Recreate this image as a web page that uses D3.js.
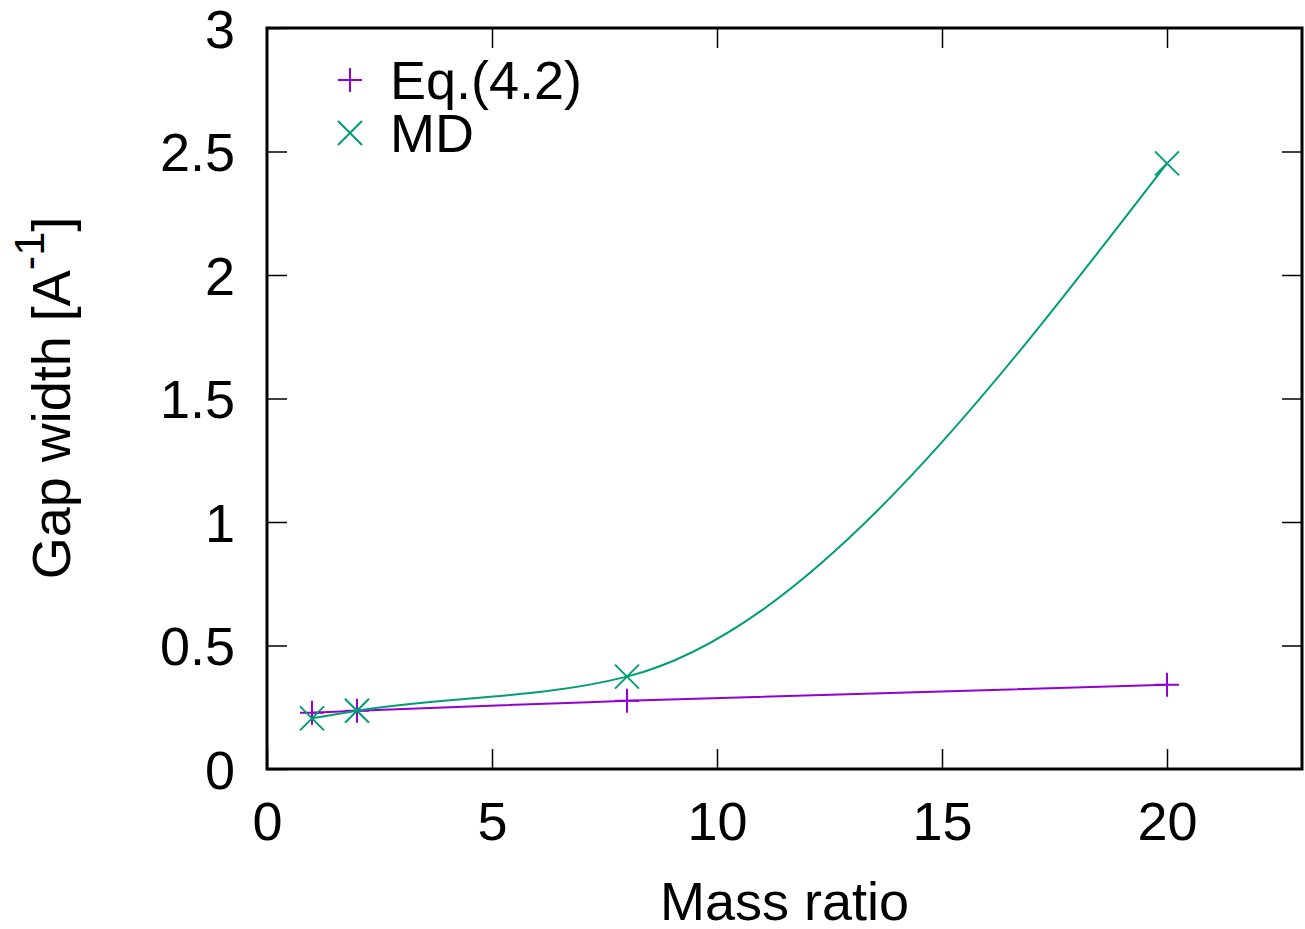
<!DOCTYPE html>
<html>
<head>
<meta charset="utf-8">
<script src="https://cdn.jsdelivr.net/npm/d3@7"></script>
<style>
  body { margin: 0; background: #fff; }
  text { font-family: "Liberation Sans", Arial, sans-serif; fill: #000; }
</style>
</head>
<body>
<div id="chart"></div>
<script>
// mass ratios and gap widths
var massRatio = [1, 2, 8, 20];
var eqValues = [0.228, 0.236, 0.276, 0.341];
var mdValues = [0.205, 0.236, 0.374, 2.452];
var xTicks = [0, 5, 10, 15, 20];
var yTicks = [0, 0.5, 1, 1.5, 2, 2.5, 3];

var w = 1305, h = 929;
//plot box (window.top is taken, so no plain "top")
var plotLeft = 267, plotRight = 1302, plotTop = 28, plotBottom = 769;
var FONT = 54;

var svg = d3.select("#chart").append("svg")
    .attr("width", w)
    .attr("height", h);

var x = d3.scaleLinear().domain([0, 23]).range([plotLeft, plotRight]);
var y = d3.scaleLinear().domain([0, 3]).range([plotBottom, plotTop]);

//tick marks on all four sides, pointing inwards
var TICK = 20;
svg.append("g")
    .attr("transform", "translate(0," + plotBottom + ")")
    .call(d3.axisBottom(x).tickValues(xTicks).tickSizeInner(-TICK).tickSizeOuter(0).tickFormat(d3.format("d")).tickPadding(34))
    .call(function (g) {
        g.select(".domain").remove();
        g.selectAll("line").attr("stroke", "#000").attr("stroke-width", 1.5);
        g.selectAll("text").attr("font-size", FONT).attr("dy", "0.69em");
    });
svg.append("g")
    .attr("transform", "translate(0," + plotTop + ")")
    .call(d3.axisTop(x).tickValues(xTicks.filter(function (d) { return d > 0; })).tickSizeInner(-TICK).tickSizeOuter(0).tickFormat(""))
    .call(function (g) {
        g.select(".domain").remove();
        g.selectAll("line").attr("stroke", "#000").attr("stroke-width", 1.5);
    });
svg.append("g")
    .attr("transform", "translate(" + plotLeft + ",0)")
    .call(d3.axisLeft(y).tickValues(yTicks).tickSizeInner(-TICK).tickSizeOuter(0).tickFormat(d3.format("")).tickPadding(32))
    .call(function (g) {
        g.select(".domain").remove();
        g.selectAll("line").attr("stroke", "#000").attr("stroke-width", 1.5);
        g.selectAll("text").attr("font-size", FONT).attr("dy", "0.36em");
    });
svg.append("g")
    .attr("transform", "translate(" + plotRight + ",0)")
    .call(d3.axisRight(y).tickValues(yTicks.filter(function (d) { return d > 0 && d < 3; })).tickSizeInner(-TICK).tickSizeOuter(0).tickFormat(""))
    .call(function (g) {
        g.select(".domain").remove();
        g.selectAll("line").attr("stroke", "#000").attr("stroke-width", 1.5);
    });

//frame
svg.append("rect")
    .attr("x", plotLeft)
    .attr("y", plotTop)
    .attr("width", plotRight - plotLeft)
    .attr("height", plotBottom - plotTop)
    .attr("fill", "none")
    .attr("stroke", "#000")
    .attr("stroke-width", 3);

var series = [
    { name: "Eq.(4.2)", values: eqValues, color: "#9400d3", marker: "plus" },
    { name: "MD", values: mdValues, color: "#009e73", marker: "cross" }
];

var line = d3.line()
    .x(function (d) { return x(d[0]); })
    .y(function (d) { return y(d[1]); })
    .curve(d3.curveMonotoneX);

var M = 12;
function markerPath(type) {
    if (type === "plus") {
        return "M" + (-M) + ",0H" + M + "M0," + (-M) + "V" + M;
    }
    return "M" + (-M) + "," + (-M) + "L" + M + "," + M + "M" + (-M) + "," + M + "L" + M + "," + (-M);
}

series.forEach(function (s) {
    var pts = massRatio.map(function (m, i) { return [m, s.values[i]]; });

    svg.append("path")
        .attr("d", line(pts))
        .attr("fill", "none")
        .attr("stroke", s.color)
        .attr("stroke-width", 2);

    svg.selectAll(null)
        .data(pts)
        .enter().append("path")
        .attr("transform", function (d) { return "translate(" + x(d[0]) + "," + y(d[1]) + ")"; })
        .attr("d", markerPath(s.marker))
        .attr("stroke", s.color)
        .attr("stroke-width", 2)
        .attr("fill", "none");
});

//legend
var legend = svg.append("g");
series.forEach(function (s, i) {
    var ly = 80 + i * 53;
    legend.append("path")
        .attr("transform", "translate(350," + ly + ")")
        .attr("d", markerPath(s.marker))
        .attr("stroke", s.color)
        .attr("stroke-width", 2)
        .attr("fill", "none");
    legend.append("text")
        .attr("x", 390)
        .attr("y", ly)
        .attr("dy", "0.36em")
        .attr("font-size", FONT)
        .text(s.name);
});

//axis titles
svg.append("text")
    .attr("x", (plotLeft + plotRight) / 2)
    .attr("y", 920)
    .attr("text-anchor", "middle")
    .attr("font-size", FONT)
    .text("Mass ratio");

var yTitle = svg.append("text")
    .attr("transform", "translate(70," + 398 + ") rotate(-90)")
    .attr("text-anchor", "middle")
    .attr("font-size", FONT);
yTitle.append("tspan").text("Gap width [A");
yTitle.append("tspan").attr("font-size", FONT * 0.8).attr("dy", "-0.6em").text("-1");
yTitle.append("tspan").attr("dy", "0.48em").text("]");
</script>
</body>
</html>
